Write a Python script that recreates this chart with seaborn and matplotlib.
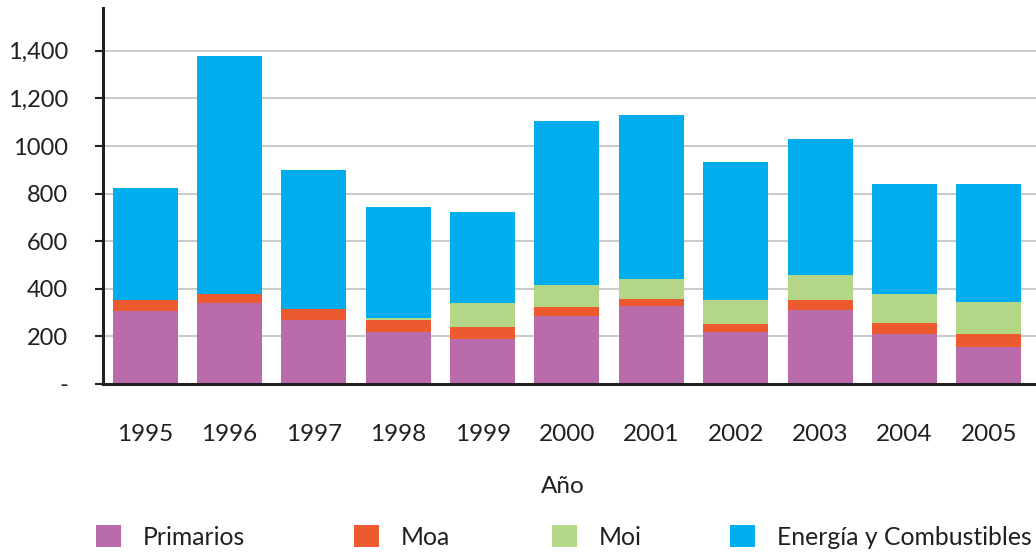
import matplotlib
matplotlib.use("Agg")
import matplotlib.pyplot as plt
import seaborn as sns
import numpy as np
import pandas as pd
from matplotlib.patches import Patch

years = ["1995", "1996", "1997", "1998", "1999", "2000", "2001", "2002", "2003", "2004", "2005"]
primarios = [305, 341, 267, 217, 189, 287, 328, 217, 313, 212, 157]
moa = [49, 38, 49, 50, 52, 38, 29, 37, 40, 46, 55]
moi = [0, 0, 0, 12, 100, 93, 83, 99, 104, 120, 133]
energia = [469, 998, 583, 465, 381, 689, 692, 579, 573, 464, 497]

series_names = ["Primarios", "Moa", "Moi", "Energía y Combustibles"]
colors = ["#B96BAC", "#EE5A2F", "#B3D687", "#00ADED"]
ytick_vals = [0, 200, 400, 600, 800, 1000, 1200, 1400]
ytick_labels = ["-", "200", "400", "600", "800", "1000", "1,200", "1,400"]

sns.set_theme(style="white")
plt.rcParams["font.family"] = ["Lato", "DejaVu Sans"]

W, H = 1036, 554
fig = plt.figure(figsize=(W / 100, H / 100), dpi=100)
ax_left, ax_right, ax_top, ax_bottom = 103, 1036, 8, 384
ax = fig.add_axes([ax_left / W, 1 - ax_bottom / H, (ax_right - ax_left) / W, (ax_bottom - ax_top) / H])

df = pd.DataFrame({"year": years, "Primarios": primarios, "Moa": moa, "Moi": moi,
                   "Energía y Combustibles": energia})
cum = df[series_names].cumsum(axis=1)

# draw cumulative totals from top down so lower segments overlay
for name, col in reversed(list(zip(series_names, colors))):
    sns.barplot(x=df["year"], y=cum[name], color=col, saturation=1, width=0.77,
                ax=ax, linewidth=0, zorder=3)

ax.set_xlim(-0.467, 10.56)
ax.set_ylim(0, 1580)

# grid
ax.set_yticks(ytick_vals)
ax.set_yticklabels(ytick_labels)
for v in ytick_vals[1:]:
    ax.axhline(v, color="#C9C9C9", lw=1.4, zorder=1)

ax.set_xticks(range(len(years)))
ax.set_xticklabels(years)
ax.set_xticks(np.arange(-0.5, len(years)), minor=True)
ax.tick_params(axis="x", which="major", length=0, pad=29, labelsize=17.5, colors="#231F20")
ax.tick_params(axis="x", which="minor", length=7, width=2.2, direction="out", color="#231F20")
ax.tick_params(axis="y", which="major", length=6, width=1.5, pad=19, labelsize=17,
               direction="out", left=True, color="#231F20", labelcolor="#231F20")

for s in ["top", "right"]:
    ax.spines[s].set_visible(False)
for s in ["left", "bottom"]:
    ax.spines[s].set_color("#231F20")
    ax.spines[s].set_linewidth(2.2)
    ax.spines[s].set_zorder(5)

ax.set_ylabel("")
ax.set_xlabel("Año", fontsize=17.5, color="#231F20")
ax.xaxis.set_label_coords((563 - ax_left) / (ax_right - ax_left), -0.245)

# legend: one entry per anchor, matching the reference spacing
legend_x = [96, 354, 552, 730]
for name, col, lx in zip(series_names, colors, legend_x):
    fig.legend([Patch(facecolor=col, edgecolor="none")], [name], loc="center left",
               bbox_to_anchor=(lx / W, 1 - 537 / H), frameon=False, fontsize=17.8,
               handlelength=1.01, handleheight=1.01, handletextpad=0.88,
               borderpad=0, borderaxespad=0, labelcolor="#231F20")

fig.savefig("out.png", dpi=100)
